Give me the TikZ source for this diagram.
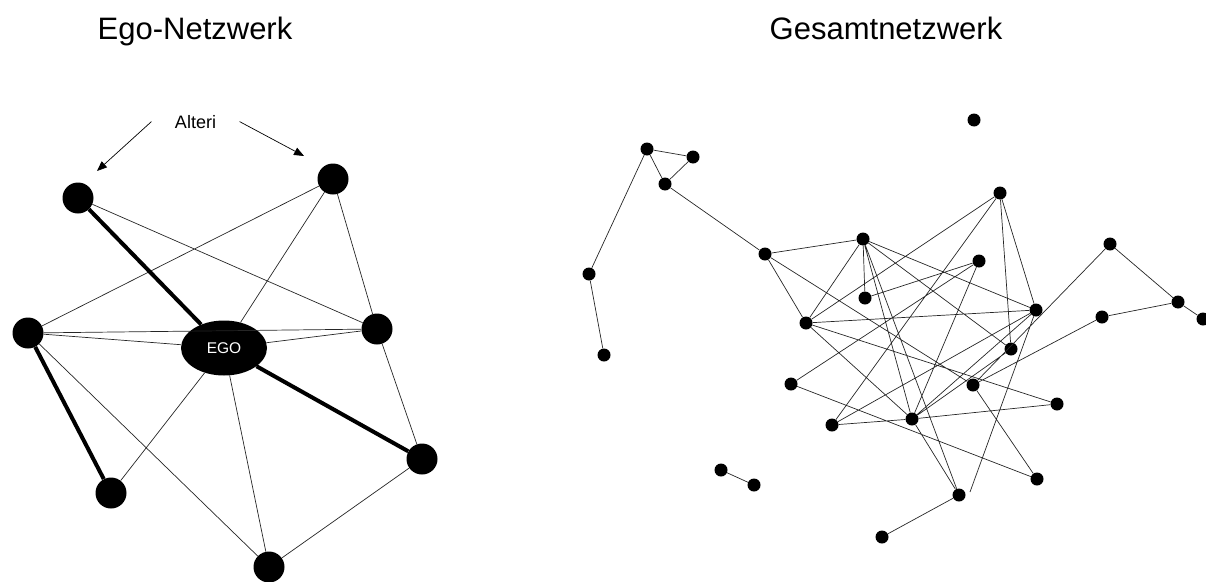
\documentclass[tikz,border=0pt]{standalone}
\usepackage{fontspec}
\setmainfont{Liberation Sans}
\usetikzlibrary{positioning,arrows.meta,shapes.geometric}

\begin{document}
\begin{tikzpicture}[x=1pt,y=-1pt,
  alter/.style={circle,fill,inner sep=0pt,minimum size=31pt},
  actor/.style={circle,fill,inner sep=0pt,minimum size=13pt},
  tie/.style={line width=0.7pt,draw=black!85},
  strong/.style={line width=4pt},
  pointer/.style={line width=0.7pt,-{Triangle[length=10pt,width=8pt]}}]
 \useasboundingbox (0,0) rectangle (1206,581);

 % titles
 \node [anchor=base,font=\fontsize{31}{36}\selectfont] (ttl1) at (195,39) {Ego-Netzwerk};
 \node [anchor=base,font=\fontsize{31}{36}\selectfont] (ttl2) at (886,39) {Gesamtnetzwerk};

 % ego network
 \node [ellipse,fill,inner sep=0pt,minimum width=86pt,minimum height=55pt,
        text=white,font=\fontsize{15.5}{18}\selectfont] (ego) at (224,348) {EGO};
 \node [alter] (a1) at (78,198) {};
 \node [alter] (a2) at (333,179) {};
 \node [alter] (a3) at (28,333) {};
 \node [alter] (a4) at (377,329) {};
 \node [alter] (a5) at (111,493) {};
 \node [alter] (a6) at (422,459) {};
 \node [alter] (a7) at (269,567) {};

 \node [anchor=base,font=\fontsize{18}{22}\selectfont] (alteri) at (195.5,128) {Alteri};
 \coordinate [left=20pt of alteri.west] (al1);
 \coordinate [right=20pt of alteri.east] (al2);
 \coordinate (tip1) at (97,171);
 \coordinate (tip2) at (304,156);
 \draw [pointer] (al1) -- (tip1);
 \draw [pointer] (al2) -- (tip2);

 \draw [tie] (a3) -- (a4);
 \draw [tie] (a1) -- (a4) (a2) -- (a3) (a2) -- (ego) (a2) -- (a4)
   (a3) -- (ego) (ego) -- (a4) (a3) -- (a7) (a5) -- (ego)
   (ego) -- (a7) (a4) -- (a6) (a6) -- (a7);
 \draw [strong] (a1) -- (ego) (a3) -- (a5) (ego) -- (a6);

 % whole network
 \foreach \n/\x/\y in {a/647/149, b/693/157, c/665/184, d/589/274, e/604/355,
   f/974/120, g/1000/193, h/765/254, i/863/239, j/979/261, k/865/298,
   l/806/323, m/1036/310, n/1011/349, o/1110/244, p/1178/302, q/1203/319,
   r/1102/317, s/791/384, t/973/385, u/1057/404, v/832/425, w/912/419,
   x/721/470, y/754/485, z/1037/479, aa/959/495, bb/882/537}
   \node [actor] (\n) at (\x,\y) {};
 \coordinate (mend) at (970,492);

 \draw [tie] (a) -- (b) (a) -- (c) (b) -- (c) (a) -- (d) (d) -- (e)
   (c) -- (h) (h) -- (i) (h) -- (l) (h) -- (t) (i) -- (l) (i) -- (k)
   (i) -- (m) (i) -- (n) (i) -- (w) (i) -- (aa) (k) -- (j) (j) -- (w)
   (s) -- (j) (s) -- (z) (v) -- (g) (v) -- (m) (v) -- (w) (w) -- (u)
   (l) -- (g) (l) -- (m) (l) -- (u) (l) -- (w) (w) -- (aa)
   (g) -- (m) (g) -- (n) (x) -- (y)
   (aa) -- (bb) (m) -- (mend) (o) -- (p) (p) -- (q) (r) -- (p)
   (r) -- (t) (o) -- (t) (t) -- (z) (w) -- (m) (w) -- (n);
\end{tikzpicture}
\end{document}
